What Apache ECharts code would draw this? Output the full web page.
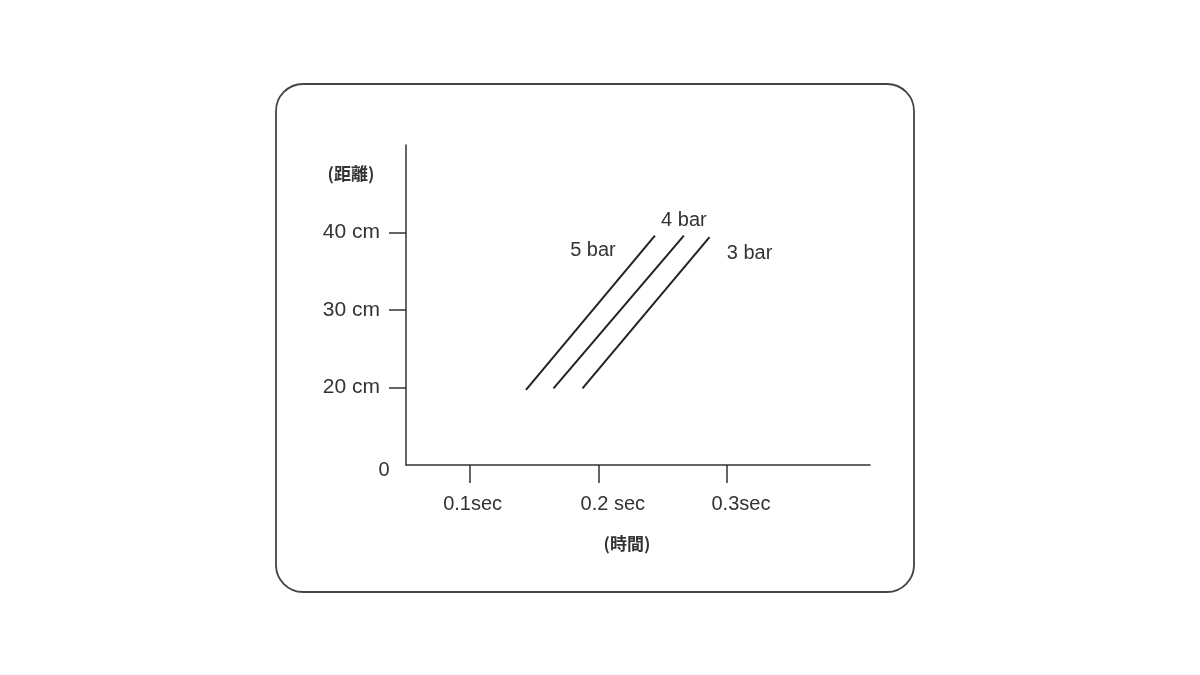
<!DOCTYPE html>
<html>
<head>
<meta charset="utf-8">
<script src="https://cdn.jsdelivr.net/npm/echarts@6/dist/echarts.min.js"></script>
<style>
  html, body { margin: 0; padding: 0; background: #fff; }
  #chart { width: 1200px; height: 675px; }
</style>
</head>
<body>
<div id="chart"></div>
<script>
// values: [time sec, distance cm]
var bar5 = [[0.1436, 19.7], [0.2442, 39.6]]
var bar4 = [[0.1651, 19.9], [0.2668, 39.6]]
var bar3 = [[0.1877, 19.9], [0.2868, 39.4]]
var seriesNames = ['5 bar', '4 bar', '3 bar']

var xTicks = [0.1, 0.2, 0.3]
var xTickLabels = ['0.1sec', '0.2 sec', '0.3sec']
var yTicks = [20, 30, 40]
var yTickLabels = ['20 cm', '30 cm', '40 cm']

var FONT = '"Liberation Sans", Arial, sans-serif'
var CJK = '"Noto Sans CJK JP", sans-serif'
var INK = '#333'

var chart = echarts.init(document.getElementById('chart'))

function lineSeries(name, data, offset) {
  return {
    name: name,
    type: 'line',
    data: data.map(function (d, i) {
      var item = { value: d }
      if (i === data.length - 1) {
        item.label = {
          show: true,
          position: 'inside',
          offset: offset,
          formatter: name,
          color: INK,
          fontFamily: FONT,
          fontSize: 20,
        }
      }
      return item
    }),
    symbol: 'circle',
    symbolSize: 1,
    showSymbol: true,
    itemStyle: { color: 'rgba(0,0,0,0)' },
    lineStyle: { color: '#222', width: 2 },
    emphasis: { disabled: true },
    animation: false,
  }
}

var option = {
  animation: false,
  grid: {
    left: 406,
    right: 330,
    top: 145,
    bottom: 210,
  },
  xAxis: {
    type: 'value',
    min: 0.05,
    max: 0.412,
    axisLine: { show: true, lineStyle: { color: INK, width: 1.5 } },
    axisTick: {
      show: true,
      customValues: xTicks,
      length: 18,
      lineStyle: { color: INK, width: 1.5 },
    },
    axisLabel: {
      customValues: xTicks,
      margin: 29,
      formatter: function (v) {
        var i = xTicks.indexOf(Math.round(v * 10) / 10)
        var txt = i >= 0 ? xTickLabels[i] : ''
        return (i === 0 ? '{a|' : '{b|') + txt + '}'
      },
      rich: {
        a: { fontFamily: FONT, fontSize: 20, color: INK, padding: [0, 0, 0, 5] },
        b: { fontFamily: FONT, fontSize: 20, color: INK, padding: [0, 0, 0, 29] },
      },
    },
    splitLine: { show: false },
  },
  yAxis: {
    type: 'value',
    min: 10,
    max: 51.3,
    axisLine: { show: true, lineStyle: { color: INK, width: 1.5 } },
    axisTick: {
      show: true,
      customValues: yTicks,
      length: 17,
      lineStyle: { color: INK, width: 1.5 },
    },
    axisLabel: {
      customValues: yTicks,
      margin: 26,
      color: INK,
      fontFamily: FONT,
      fontSize: 21,
      padding: [7, 0, 0, 0],
      formatter: function (v) {
        var i = yTicks.indexOf(Math.round(v))
        return i >= 0 ? yTickLabels[i] : ''
      },
    },
    splitLine: { show: false },
  },
  graphic: [
    {
      type: 'rect',
      shape: { x: 276, y: 84, width: 638, height: 508, r: 27 },
      style: { fill: 'none', stroke: '#444', lineWidth: 1.8 },
      silent: true,
    },
    {
      type: 'text',
      x: 384,
      y: 470,
      style: {
        text: '0',
        fill: INK,
        font: '20px ' + FONT,
        align: 'center',
        verticalAlign: 'middle',
      },
    },
    {
      type: 'text',
      x: 351,
      y: 174,
      style: {
        text: '(距離)',
        fill: INK,
        font: 'bold 17px ' + CJK,
        align: 'center',
        verticalAlign: 'middle',
      },
    },
    {
      type: 'text',
      x: 627,
      y: 544,
      style: {
        text: '(時間)',
        fill: INK,
        font: 'bold 17px ' + CJK,
        align: 'center',
        verticalAlign: 'middle',
      },
    },
  ],
  series: [
    lineSeries(seriesNames[0], bar5, [-62, 15]),
    lineSeries(seriesNames[1], bar4, [0, -15]),
    lineSeries(seriesNames[2], bar3, [40, 16]),
  ],
}

chart.setOption(option)
</script>
</body>
</html>
